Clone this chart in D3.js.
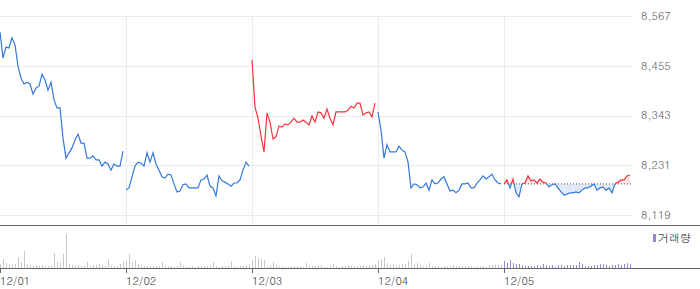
<!DOCTYPE html>
<html>
<head>
<meta charset="utf-8">
<script src="https://cdn.jsdelivr.net/npm/d3@7"></script>
<style>
  html, body { margin: 0; padding: 0; background: #fff; }
  text { font-family: Dotum, "Liberation Sans", Arial, "Noto Sans CJK KR", sans-serif; font-size: 11px; }
</style>
</head>
<body>
<div id="container"></div>
<script>
var width = 700;
var height = 289;

// day labels on the bottom axis
var dates = ["12/01", "12/02", "12/03", "12/04", "12/05"];

// price ticks on the right
var priceTicks = [8119, 8231, 8343, 8455, 8567];

// prices, one point every interval, per day
var price1 = [8531, 8472, 8497, 8495, 8518, 8502, 8454, 8427, 8414, 8418, 8414, 8391, 8405, 8409, 8436, 8423, 8400, 8418, 8378, 8360, 8360,
              8292, 8247, 8259, 8270, 8288, 8301, 8281, 8281, 8247, 8247, 8252, 8243, 8243, 8229, 8238, 8234, 8220, 8234, 8229, 8229, 8263];
var price2 = [8175, 8180, 8205, 8229, 8238, 8236, 8229, 8259, 8238, 8259, 8234, 8220, 8205, 8202, 8211, 8209, 8189, 8171, 8173, 8187, 8189,
              8180, 8180, 8180, 8180, 8198, 8200, 8209, 8184, 8180, 8162, 8207, 8196, 8193, 8189, 8184, 8191, 8191, 8198, 8220, 8238, 8229];
var price3 = [8468, 8362, 8337, 8297, 8261, 8349, 8328, 8290, 8295, 8319, 8317, 8324, 8322, 8328, 8337, 8328, 8328, 8333, 8328, 8322, 8342,
              8328, 8351, 8349, 8337, 8358, 8337, 8322, 8351, 8351, 8351, 8351, 8355, 8364, 8360, 8371, 8371, 8344, 8349, 8351, 8340, 8371];
var price4 = [8351, 8310, 8247, 8277, 8261, 8261, 8261, 8274, 8265, 8261, 8238, 8180, 8189, 8187, 8180, 8182, 8191, 8175, 8198, 8189, 8191,
              8200, 8205, 8189, 8173, 8175, 8169, 8175, 8189, 8189, 8191, 8180, 8180, 8191, 8198, 8207, 8200, 8205, 8211, 8198, 8191, 8189];
var price5 = [8189, 8198, 8180, 8200, 8169, 8160, 8189, 8191, 8207, 8196, 8198, 8191, 8200, 8193, 8191, 8182, 8187, 8189, 8180, 8171, 8164,
              8166, 8169, 8169, 8171, 8169, 8175, 8180, 8180, 8184, 8189, 8175, 8180, 8182, 8175, 8180, 8169, 8189, 8193, 8198, 8198, 8207, 8209];

// volume per interval, per day
var vol1 = [4, 9, 5, 4, 4, 4, 11, 6, 17, 4, 3, 2, 3, 2, 3, 2, 2, 2, 15, 6, 5, 14, 34, 4, 3, 2, 3, 2, 2, 6, 2, 3, 3, 4, 3, 2, 9, 2, 2, 2, 4, 6];
var vol2 = [7, 14, 6, 8, 4, 3, 2, 2, 2, 2, 2, 2, 6, 2, 2, 2, 1, 2, 6, 2, 1, 1, 2, 1, 2, 2, 2, 2, 2, 6, 2, 1, 2, 2, 2, 7, 2, 1, 2, 2, 3, 4];
var vol3 = [8, 12, 10, 9, 8, 2, 3, 6, 3, 2, 2, 1, 1, 2, 2, 2, 2, 1, 5, 2, 2, 2, 3, 3, 1, 1, 2, 4, 2, 1, 2, 2, 3, 2, 2, 2, 2, 3, 2, 3, 3, 4];
var vol4 = [8, 9, 11, 5, 3, 4, 2, 3, 4, 4, 7, 14, 4, 5, 3, 2, 2, 5, 2, 2, 2, 1, 2, 2, 2, 3, 2, 2, 2, 2, 2, 2, 1, 2, 2, 2, 1, 3, 3, 3, 3, 3];
var vol5 = [7, 5, 8, 5, 4, 4, 3, 2, 2, 2, 2, 3, 2, 4, 3, 2, 3, 1, 3, 3, 2, 3, 3, 3, 3, 6, 4, 2, 2, 2, 3, 3, 4, 4, 3, 2, 3, 3, 4, 3, 4, 5, 4];

var priceDays = [price1, price2, price3, price4, price5];
var volDays = [vol1, vol2, vol3, vol4, vol5];
var perDay = 42;

var upColor = "#f3333d";
var downColor = "#3478dc";

// flatten into indexed points
var days = priceDays.map(function(p, d) {
    return p.map(function(v, i) { return { i: d * perDay + i, v: v, vol: volDays[d][i] }; });
});
var allPts = [].concat.apply([], days);

var x = d3.scaleLinear().domain([0, 210]).range([0, 630]);
var y = d3.scaleLinear().domain([8119, 8567]).range([215, 16]);
var yv = d3.scaleLinear().domain([0, d3.max(allPts, function(d) { return d.vol; })]).range([268, 234]);

var plotRight = 632;

const svg = d3.create("svg")
    .attr("width", width)
    .attr("height", height);

var defs = svg.append("defs");

// grid
svg.append("g").selectAll("line").data(priceTicks).enter().append("line")
    .attr("x1", 0).attr("x2", plotRight)
    .attr("y1", function(d) { return Math.round(y(d)) + 0.5; })
    .attr("y2", function(d) { return Math.round(y(d)) + 0.5; })
    .attr("stroke", "#ebebeb");

svg.append("g").selectAll("line").data(dates.slice(1)).enter().append("line")
    .attr("x1", function(d, i) { return Math.round(x((i + 1) * perDay)) + 0.5; })
    .attr("x2", function(d, i) { return Math.round(x((i + 1) * perDay)) + 0.5; })
    .attr("y1", 16).attr("y2", 225)
    .attr("stroke", "#ebebeb");

// right price labels
svg.append("g").selectAll("text").data(priceTicks).enter().append("text")
    .attr("x", 641)
    .attr("y", function(d) { return y(d); })
    .attr("dy", "0.35em")
    .attr("fill", "#666")
    .text(function(d) { return d3.format(",")(d); });

var line = d3.line()
    .x(function(d) { return x(d.i); })
    .y(function(d) { return y(d.v); });

// each day is split red / blue around the previous day's close
days.forEach(function(pts, d) {
    var ref = d === 0 ? pts[0].v : days[d - 1][days[d - 1].length - 1].v;
    var yr = y(ref);
    var idUp = "clipUp" + d, idDn = "clipDn" + d;
    defs.append("clipPath").attr("id", idUp).append("rect")
        .attr("x", 0).attr("y", 0).attr("width", width).attr("height", yr);
    defs.append("clipPath").attr("id", idDn).append("rect")
        .attr("x", 0).attr("y", yr).attr("width", width).attr("height", height - yr);

    var g = svg.append("g");

    if (d === days.length - 1) {
        var area = d3.area()
            .x(function(p) { return x(p.i); })
            .y0(yr)
            .y1(function(p) { return y(p.v); });
        g.append("path").datum(pts).attr("d", area)
            .attr("fill", "#fde2e4").attr("clip-path", "url(#" + idUp + ")");
        g.append("path").datum(pts).attr("d", area)
            .attr("fill", "#e2eaf7").attr("clip-path", "url(#" + idDn + ")");
        g.append("line")
            .attr("x1", x(pts[0].i)).attr("x2", plotRight)
            .attr("y1", yr).attr("y2", yr)
            .attr("stroke", "#555").attr("stroke-dasharray", "1,2");
    }

    g.append("path").datum(pts).attr("d", line)
        .attr("fill", "none").attr("stroke", upColor).attr("stroke-width", 1.2)
        .attr("clip-path", "url(#" + idUp + ")");
    g.append("path").datum(pts).attr("d", line)
        .attr("fill", "none").attr("stroke", downColor).attr("stroke-width", 1.2)
        .attr("clip-path", "url(#" + idDn + ")");
});

// separator between price and volume panels
svg.append("line").attr("x1", 0).attr("x2", width).attr("y1", 225.5).attr("y2", 225.5)
    .attr("stroke", "#666");

// volume bars
svg.append("g").selectAll("rect").data(allPts).enter().append("rect")
    .attr("x", function(d) { return Math.round(x(d.i)); })
    .attr("y", function(d) { return yv(d.vol); })
    .attr("width", 1)
    .attr("height", function(d) { return 268 - yv(d.vol); })
    .attr("fill", function(d) { return d.i >= 4 * perDay ? "#9c88d2" : "#c9c9cb"; });

// bottom axis
svg.append("line").attr("x1", 0).attr("x2", width).attr("y1", 268.5).attr("y2", 268.5)
    .attr("stroke", "#666");

var ax = svg.append("g").selectAll("g").data(dates).enter().append("g")
    .attr("transform", function(d, i) { return "translate(" + (Math.round(x(i * perDay)) + 0.5) + ",0)"; });
ax.append("line").attr("y1", 268).attr("y2", 273).attr("stroke", "#666");
ax.append("text").attr("x", -0.5).attr("y", 285).attr("fill", "#444").text(function(d) { return d; });

// legend
svg.append("rect").attr("x", 653).attr("y", 234).attr("width", 3).attr("height", 8).attr("fill", "#9c88d2");
svg.append("text").attr("x", 658).attr("y", 242).attr("fill", "#444").text("거래량");

document.getElementById("container").append(svg.node());
</script>
</body>
</html>
